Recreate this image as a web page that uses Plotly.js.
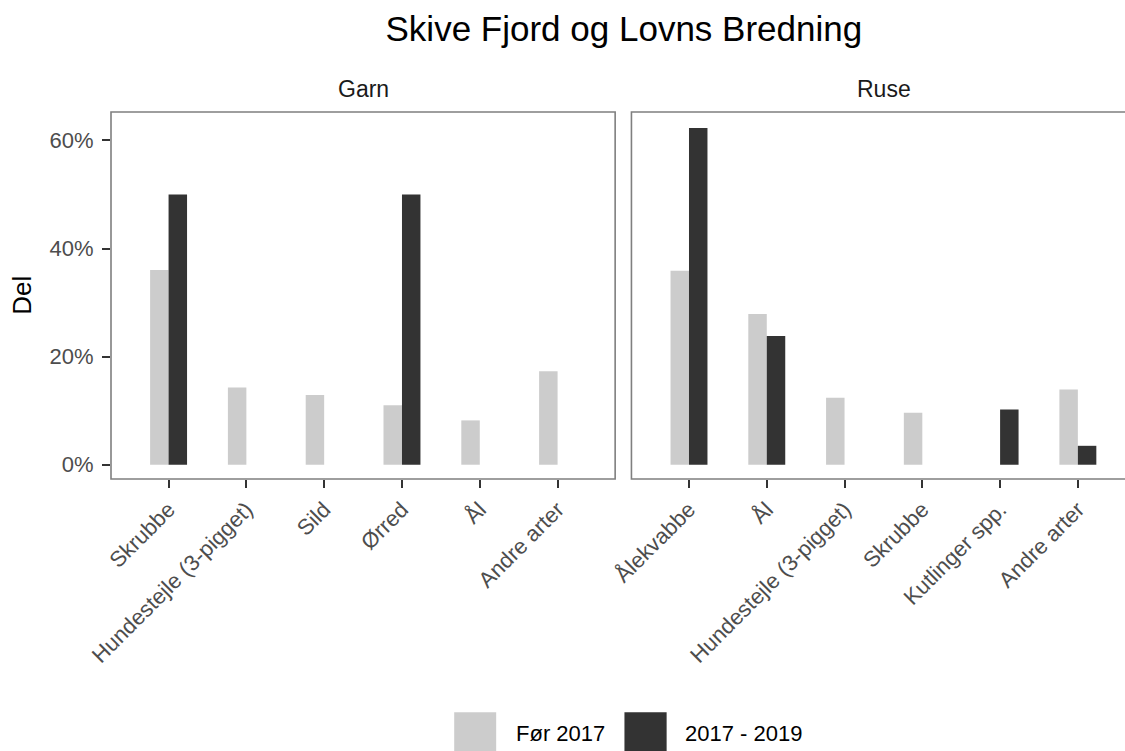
<!DOCTYPE html>
<html>
<head>
<meta charset="utf-8">
<script src="https://cdn.plot.ly/plotly-3.0.1.min.js"></script>
<style>
  html, body { margin: 0; padding: 0; background: #ffffff; overflow: hidden; }
  #chart { width: 1125px; height: 751px; }
</style>
</head>
<body>
<div id="chart"></div>
<script>
// ---- Data (percent shares) ----
const chartTitle = 'Skive Fjord og Lovns Bredning';
const facetNames = ['Garn', 'Ruse'];
const seriesNames = ['Før 2017', '2017 - 2019'];
const seriesColors = ['#CCCCCC', '#333333'];

const garnCategories = ['Skrubbe', 'Hundestejle (3-pigget)', 'Sild', 'Ørred', 'Ål', 'Andre arter'];
const garnFoer2017   = [36.0, 14.3, 12.9, 11.0, 8.2, 17.3];
const garn2017_2019  = [50.0, null, null, 50.0, null, null];

const ruseCategories = ['Ålekvabbe', 'Ål', 'Hundestejle (3-pigget)', 'Skrubbe', 'Kutlinger spp.', 'Andre arter'];
const ruseFoer2017   = [35.9, 27.9, 12.4, 9.6, null, 13.9];
const ruse2017_2019  = [62.3, 23.8, null, null, 10.2, 3.5];

const yTickVals = [0, 20, 40, 60];
const yTickText = ['0%', '20%', '40%', '60%'];
const yAxisTitle = 'Del';

// ---- Layout geometry (pixels) ----
const W = 1125, H = 751;
const mL = 110.7, mT = 111.7, mB = H - 479, mR = 0;
const plotW = W - mL - mR, plotH = H - mT - mB;
const px2x = p => (p - mL) / plotW;
const py2y = p => (H - mB - p) / plotH;

const FONT = 'Liberation Sans, Arial, Helvetica, sans-serif';

function barTrace(x, y, name, color, xa, ya) {
  return {
    type: 'bar', x: x, y: y, name: name, xaxis: xa, yaxis: ya,
    marker: { color: color, line: { width: 0 } },
    showlegend: false, hoverinfo: 'x+y+name'
  };
}

const traces = [
  barTrace(garnCategories, garnFoer2017, seriesNames[0], seriesColors[0], 'x', 'y'),
  barTrace(garnCategories, garn2017_2019, seriesNames[1], seriesColors[1], 'x', 'y'),
  barTrace(ruseCategories, ruseFoer2017, seriesNames[0], seriesColors[0], 'x2', 'y2'),
  barTrace(ruseCategories, ruse2017_2019, seriesNames[1], seriesColors[1], 'x2', 'y2')
];

const d1 = [0, px2x(615)];
const d2 = [px2x(631.3), 1];

const xCommon = {
  type: 'category', showgrid: false, zeroline: false, showline: false,
  ticks: 'outside', ticklen: 8, tickwidth: 2, tickcolor: '#333333',
  tickangle: -45, tickfont: { family: FONT, size: 22, color: '#4D4D4D' },
  automargin: false, fixedrange: true
};
const yCommon = {
  range: [-2.64, 65.25], showgrid: false, zeroline: false, showline: false,
  tickvals: yTickVals, ticktext: yTickText, automargin: false, fixedrange: true
};

const borderColor = '#7F7F7F';
const shapes = [
  // Garn panel border
  { type: 'rect', xref: 'x domain', yref: 'y domain', x0: 0, x1: 1, y0: 0, y1: 1,
    line: { color: borderColor, width: 1.6 }, fillcolor: 'rgba(0,0,0,0)', layer: 'above' },
  // Ruse panel border (right side falls outside the picture)
  { type: 'rect', xref: 'paper', yref: 'paper', x0: d2[0], x1: px2x(1136.7), y0: 0, y1: 1,
    line: { color: borderColor, width: 1.6 }, fillcolor: 'rgba(0,0,0,0)', layer: 'above' },
  // legend keys
  { type: 'rect', xref: 'paper', yref: 'paper', x0: px2x(454), x1: px2x(496), y0: py2y(755), y1: py2y(712.5),
    line: { width: 0 }, fillcolor: seriesColors[0] },
  { type: 'rect', xref: 'paper', yref: 'paper', x0: px2x(624.3), x1: px2x(666.5), y0: py2y(755), y1: py2y(712.5),
    line: { width: 0 }, fillcolor: seriesColors[1] }
];

const annotations = [
  { text: facetNames[0], xref: 'paper', yref: 'paper', x: (d1[0] + d1[1]) / 2, y: py2y(88.5),
    xanchor: 'center', yanchor: 'middle', showarrow: false, font: { family: FONT, size: 23, color: '#1A1A1A' } },
  { text: facetNames[1], xref: 'paper', yref: 'paper', x: (d2[0] + px2x(1136.7)) / 2, y: py2y(88.5),
    xanchor: 'center', yanchor: 'middle', showarrow: false, font: { family: FONT, size: 23, color: '#1A1A1A' } },
  { text: yAxisTitle, xref: 'paper', yref: 'paper', x: px2x(22), y: py2y(295.3), textangle: -90,
    xanchor: 'center', yanchor: 'middle', showarrow: false, font: { family: FONT, size: 26, color: '#000000' } },
  { text: seriesNames[0], xref: 'paper', yref: 'paper', x: px2x(514), y: py2y(733.5),
    xanchor: 'left', yanchor: 'middle', showarrow: false, font: { family: FONT, size: 22, color: '#000000' } },
  { text: seriesNames[1], xref: 'paper', yref: 'paper', x: px2x(683), y: py2y(733.5),
    xanchor: 'left', yanchor: 'middle', showarrow: false, font: { family: FONT, size: 22, color: '#000000' } }
];

const layout = {
  width: W, height: H,
  margin: { l: mL, r: mR, t: mT, b: mB, pad: 0 },
  paper_bgcolor: '#FFFFFF', plot_bgcolor: '#FFFFFF',
  font: { family: FONT, color: '#000000' },
  title: { text: chartTitle, font: { family: FONT, size: 35, color: '#000000' },
           xref: 'paper', x: px2x(623.7), xanchor: 'center',
           yref: 'container', y: 1 - 29 / H, yanchor: 'middle' },
  barmode: 'group', bargap: 0.525, bargroupgap: 0,
  showlegend: false,
  xaxis: Object.assign({}, xCommon, { domain: d1, anchor: 'y', range: [-0.74, 5.74] }),
  xaxis2: Object.assign({}, xCommon, { domain: d2, anchor: 'y2', range: [-0.74, 5.606] }),
  yaxis: Object.assign({}, yCommon, { anchor: 'x', ticks: 'outside', ticklen: 8, tickwidth: 2, tickcolor: '#333333',
           ticklabelstandoff: 4,
           tickfont: { family: FONT, size: 22, color: '#4D4D4D' }, showticklabels: true }),
  yaxis2: Object.assign({}, yCommon, { anchor: 'x2', matches: 'y', ticks: '', showticklabels: false }),
  shapes: shapes,
  annotations: annotations
};

Plotly.newPlot('chart', traces, layout, { displayModeBar: false, staticPlot: true });
</script>
</body>
</html>
